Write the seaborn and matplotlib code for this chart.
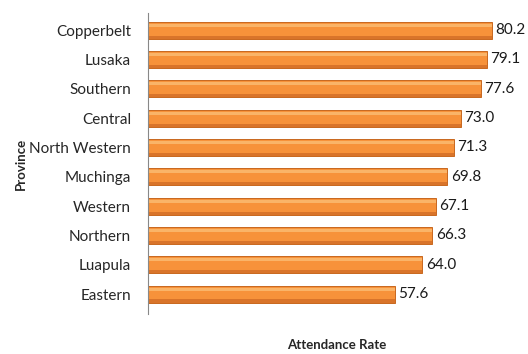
import matplotlib
matplotlib.use("Agg")
import matplotlib.pyplot as plt
import seaborn as sns
import pandas as pd

provinces = ["Copperbelt", "Lusaka", "Southern", "Central", "North Western",
             "Muchinga", "Western", "Northern", "Luapula", "Eastern"]
rates = [80.2, 79.1, 77.6, 73.0, 71.3, 69.8, 67.1, 66.3, 64.0, 57.6]

df = pd.DataFrame({"Province": provinces, "Attendance Rate": rates})

sns.set_style("white")
plt.rcParams["font.family"] = ["Lato", "DejaVu Sans"]

fig, ax = plt.subplots(figsize=(5.28, 3.54), dpi=100)
fig.subplots_adjust(left=0.28, right=0.995, top=0.963, bottom=0.113)

sns.barplot(data=df, y="Province", x="Attendance Rate", orient="h",
            color="#F7923A", saturation=1, width=0.58, ax=ax,
            edgecolor="#C8671F", linewidth=0.7)

# light top stripe and darker bottom stripe to mimic the bevelled bars
for p in ax.patches:
    x0, y0 = p.get_x(), p.get_y()
    w, h = p.get_width(), p.get_height()
    ax.add_patch(plt.Rectangle((x0, y0 + h * 0.12), w, h * 0.18,
                               color="#FAB468", lw=0,
                               zorder=p.get_zorder() + 0.1))
    ax.add_patch(plt.Rectangle((x0, y0 + h * 0.82), w, h * 0.18,
                               color="#D9742A", lw=0,
                               zorder=p.get_zorder() + 0.1))

for i, v in enumerate(rates):
    ax.text(v + 0.8, i, f"{v:.1f}", va="center", ha="left", fontsize=11,
            color="#1a1a1a")

ax.set_xlim(0, 88)
ax.set_ylim(9.68, -0.58)
ax.set_xticks([])
ax.tick_params(axis="y", length=0, labelsize=11, pad=12)
for s in ["top", "right", "bottom"]:
    ax.spines[s].set_visible(False)
ax.spines["left"].set_color("#888888")
ax.spines["left"].set_linewidth(0.8)

ax.set_ylabel("Province", fontsize=9.5, fontweight="bold", labelpad=2)
ax.set_xlabel("Attendance Rate", fontsize=9.5, fontweight="bold", labelpad=18)

fig.savefig("out.png", dpi=100)
